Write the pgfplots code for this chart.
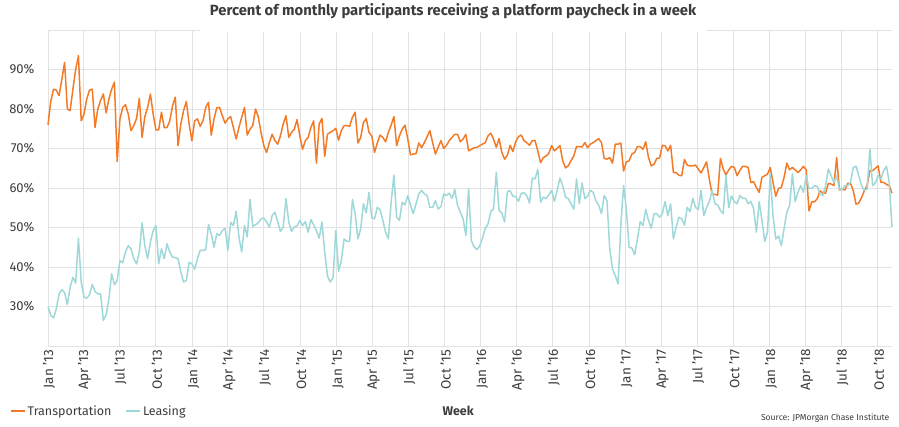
\documentclass[border=0pt]{standalone}
\usepackage{fontspec}
\setmainfont{Fira Sans}
\usepackage{pgfplots}
\usepackage{pgfplotstable}
\pgfplotsset{compat=1.18}
\definecolor{transp}{RGB}{243,123,40}
\definecolor{leas}{RGB}{158,216,217}
\definecolor{gridc}{RGB}{226,226,226}
\definecolor{txt}{RGB}{60,60,60}
\pgfplotstableread{
T L
76 30
82 27.7
85 27.1
84.8 29.4
83.4 33.2
87.5 34.3
91.8 33.5
80 30.5
79.6 34.9
85 37.4
90 35.9
93.5 47.3
77 36.2
78.7 32.4
82.5 32.1
84.8 33
85 35.6
75.3 33.8
80 33.2
82.2 33.2
83.8 26.5
79 27.9
82.5 31.9
85 38.3
86.8 35.5
66.7 36.6
77.5 41.6
80.4 41.1
81.1 43.8
78.7 45.4
74.5 44.6
75.8 42.1
77.6 40.8
82.7 43.8
72.8 51.2
78.1 45.4
80.4 42.1
83.8 46.3
78.7 49.2
74.7 50.5
74.7 40.8
79.2 44.6
75.3 42.1
75.3 45.9
77 43.8
80.8 42.5
83 42.4
70.7 42.1
76.2 38.7
79.6 36.2
81.9 36.6
76.2 41.2
72 40.8
77 39.4
77.5 42.1
75.6 44.2
77 44.2
80.4 44.4
81.7 50.7
73.4 48.4
77.5 45
80.3 48.4
80.4 48
78.3 49.2
76.4 49.8
77.5 44.2
78.1 51.3
75.3 50.5
72.4 54.1
75.3 47.6
77.9 43.8
80.4 50.5
73.4 47.6
74.9 57.1
75.8 50.3
80 50.7
78 51.2
74 52.2
70.7 52.4
69 51.4
71.5 50.1
73.6 53
72 53.9
71.1 51.4
73.2 49
76.2 50.1
78.3 57.3
72.8 51.4
74.1 49
74.9 50.1
77.3 50.4
73.2 51.8
69.8 50.5
72 51.5
72.8 48.8
75.3 52
77 50.7
66.3 49.2
76.2 47.3
77.6 51.4
68 43.8
73.6 37.7
74.1 36.2
74.5 37.2
75.1 49.2
72.1 38.9
74.5 41.6
75.8 47.1
75.8 46.5
75.6 46.5
77.9 57.1
79.2 53.5
71.4 47.1
72.8 49.7
76.6 56
77.6 53.7
74.1 58.9
73.2 52.4
69 52.2
71.4 55.1
73.4 54.5
72.8 51.8
71.7 48.8
74.1 47.1
75.9 56.4
78.1 63.3
70.7 52.6
73.2 51.8
74.9 56.4
75.9 55.7
72.4 58.1
68.4 55.6
68.6 53.5
68.7 56
71.4 58.5
70.2 59.4
71.5 58.5
73 58.1
74.5 55.1
71.5 55.1
68.6 56.8
70.3 54.7
72 55.3
70 58.5
70.8 58.1
72 58.7
72.8 57.4
73.6 59.6
73.6 55.6
71.7 53.9
72.4 52.2
73.6 48
69.4 59.8
69.8 46.7
70.2 45
70.3 44.4
70.7 45.3
71.1 47.3
71.5 49.8
73.2 50.9
73.9 54
72.4 54.7
70.3 64
72.5 54.3
69 53.7
67.3 51.4
68.3 59.1
70.8 59.3
69.2 57.9
71.7 57.9
73 56.6
73.4 58.6
72 58.8
71.5 58.1
70.8 56.2
72 62.5
72 62.3
69.4 64.7
66.4 56.4
67.7 57.7
68.1 57.3
68.8 58.3
70.7 59.4
69.4 56.6
70 59.4
70.7 62.5
66.9 60.6
65.1 57.7
65.6 57.3
66.9 56
68.1 54.6
70.5 62.3
70.5 56
70.4 61.3
71.5 57.3
70.2 57.9
71.1 59.4
71.5 58.9
72 56.8
72.5 55.6
71.5 53.5
67.5 58.1
67.3 56.8
67.7 44.6
66.3 39.5
71.1 37.8
71.1 35.7
71.4 50.5
64.3 60.6
66.6 54.6
66.9 45
68.6 44.8
69 43.1
70.5 47.1
70.5 51.5
69.8 50.5
71.7 54.6
67.7 51.8
65.6 49.8
66 53.5
67.5 53.5
67.6 52.6
70.8 53.5
70.7 56.6
69.4 53
70.8 56
63.9 47.1
63.9 50.1
63.2 52.6
63.1 52.2
67.2 50.6
65.8 55.1
65.6 54
65.6 57.4
65.8 55.1
64.8 54.5
63.8 59.4
65.2 53
66.6 55.1
62.2 56.6
58.4 59.4
58.4 56
58.2 55.7
67.5 54.3
64.8 53.5
63.3 63.2
64.6 55
65.5 58
65.2 56.5
63.1 56
64.4 58.1
65.5 57.4
65.5 57.4
65.2 56
61.4 56.6
61.6 54.7
60.1 48.8
58.9 56.6
62.7 51.8
63.1 46.5
63.5 48.8
65.2 63.6
61.4 53
57.9 47.1
59.9 47.8
60.1 45.4
62.7 49.7
66.3 53.9
64.6 55.6
65.2 63.6
64.6 56.6
63.9 58.9
64.6 60.6
65.5 58.9
64.6 63.1
54.2 59.9
56.5 59.9
56.5 60.6
57.3 60.4
59.3 58.5
58.7 58.1
58.7 60.6
61.2 64.8
61 63.1
60.6 61.4
67.7 63.1
59.5 59.6
59.7 59.6
59.5 60.6
61.2 60.6
61.2 61.4
59.3 65.2
55.9 65.5
56.2 63.1
57.6 60.6
59.3 59.4
60.6 59.7
64.4 69.9
64.4 60.6
65 61.3
65.6 63.1
61.4 62.3
61.4 64.4
60.9 65.5
60.6 61.4
58.7 50.1
}\data

\begin{document}
\begin{tikzpicture}
\useasboundingbox (0pt,0pt) rectangle (899pt,427pt);
\begin{axis}[
  at={(48pt,81pt)}, anchor=south west,
  width=844pt, height=316pt, scale only axis,
  xmin=0, xmax=305, ymin=20, ymax=100,
  clip=false,
  axis line style={draw=none},
  major tick length=0pt,
  grid=major,
  grid style={gridc, line width=0.9pt},
  xtick={0,12.86,25.86,39,52.14,65,78,91.14,104.29,117.14,130.14,143.29,156.43,169.43,182.43,195.57,208.71,221.57,234.57,247.71,260.86,273.71,286.71,299.86},
  xticklabels={Jan '13,Apr '13,Jul '13,Oct '13,Jan '14,Apr '14,Jul '14,Oct '14,Jan '15,Apr '15,Jul '15,Oct '15,Jan '16,Apr '16,Jul '16,Oct '16,Jan '17,Apr '17,Jul '17,Oct '17,Jan '18,Apr '18,Jul '18,Oct '18},
  xticklabel style={rotate=90, anchor=east, font=\fontsize{13.5}{15}\selectfont, text=txt, yshift=-1pt},
  ytick={20,30,40,50,60,70,80,90,100},
  yticklabels={,30\%,40\%,50\%,60\%,70\%,80\%,90\%,},
  yticklabel style={font=\fontsize{13}{15}\selectfont, text=txt, xshift=-10pt},
  xlabel={Week},
  xlabel style={at={(axis description cs:0.486,-0.205)}, anchor=center, font=\fontsize{12.5}{14}\selectfont\bfseries, text=txt},
  legend style={at={(axis description cs:-0.0486,-0.2057)}, anchor=west, draw=none, fill=none, font=\fontsize{12.5}{14}\selectfont, text=txt, legend columns=2, /tikz/every even column/.append style={column sep=12pt}},
  legend cell align=left,
  legend image code/.code={\draw[#1] (0pt,0pt) -- (14pt,0pt);},
]
\addplot[transp, line width=1.5pt, line join=round] table[x expr=\coordindex, y=T] {\data};
\addlegendentry{Transportation}
\addplot[leas, line width=1.5pt, line join=round] table[x expr=\coordindex, y=L] {\data};
\addlegendentry{Leasing}
\fill[white] (axis description cs:0.18,0.993) rectangle (axis description cs:0.781,1.02);
\node[font=\fontsize{14.8}{17}\selectfont\bfseries, text=txt] at (axis description cs:0.48,1.06) {Percent of monthly participants receiving a platform paycheck in a week};
\node[font=\fontsize{8.6}{10}\selectfont, text=txt, anchor=east] at (axis description cs:1.001,-0.228) {Source: JPMorgan Chase Institute};
\end{axis}
\end{tikzpicture}
\end{document}
